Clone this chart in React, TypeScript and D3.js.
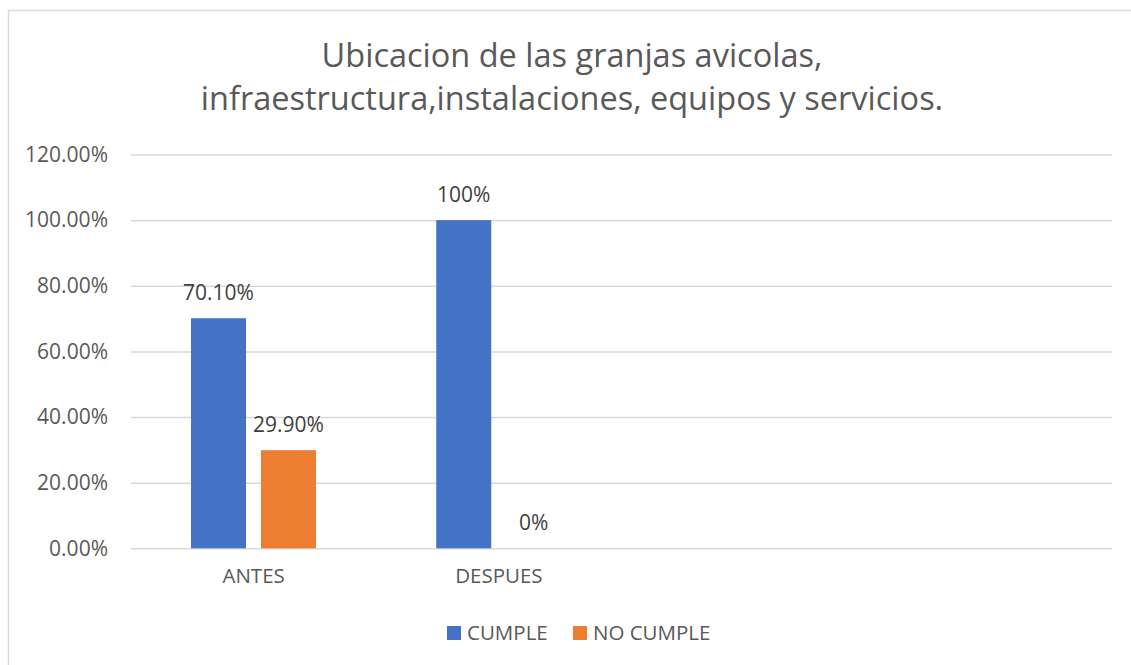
import React, { useRef, useEffect } from 'react';
import * as d3 from 'd3';

const categories = ['ANTES', 'DESPUES', '', ''];
const seriesNames = ['CUMPLE', 'NO CUMPLE'];
const seriesColors = ['#4472C4', '#ED7D31'];
const cumple = [0.701, 1.0, null, null];
const noCumple = [0.299, 0, null, null];
const cumpleLabels = ['70.10%', '100%', '', ''];
const noCumpleLabels = ['29.90%', '0%', '', ''];
const yTicks = [0, 0.2, 0.4, 0.6, 0.8, 1.0, 1.2];
const titleLines = [
  'Ubicacion de las granjas avicolas,',
  'infraestructura,instalaciones, equipos y servicios.',
];

const FONT = '"Open Sans", "Noto Sans", sans-serif';

const App: React.FC = () => {
  const ref = useRef<SVGSVGElement | null>(null);

  useEffect(() => {
    document.body.style.margin = '0';
    if (!ref.current) return;
    const svg = d3.select(ref.current);
    svg.selectAll('*').remove();

    const left = 131;
    const right = 1112;
    const top = 154.5;
    const bottom = 548.3;

    svg
      .append('rect')
      .attr('width', 1131)
      .attr('height', 665)
      .attr('fill', '#fff');

    // chart border (runs off the right/bottom edge)
    svg
      .append('rect')
      .attr('x', 8.5)
      .attr('y', 10.5)
      .attr('width', 1300)
      .attr('height', 900)
      .attr('fill', 'none')
      .attr('stroke', '#D9D9D9')
      .attr('stroke-width', 1.5);

    // title
    const title = svg
      .append('text')
      .attr('text-anchor', 'middle')
      .attr('font-family', FONT)
      .attr('font-size', 32.5)
      .attr('fill', '#595959');
    titleLines.forEach((line, i) => {
      title
        .append('tspan')
        .attr('x', 572)
        .attr('y', 67 + i * 43)
        .text(line);
    });

    const y = d3.scaleLinear().domain([0, 1.2]).range([bottom, top]);
    const x0 = d3
      .scaleBand<number>()
      .domain(categories.map((_, i) => i))
      .range([left, right]);
    const x1 = d3
      .scaleBand<number>()
      .domain(seriesNames.map((_, i) => i))
      .range([60, 185])
      .paddingInner(0.2143);

    // gridlines + y labels
    const yAxis = svg
      .append('g')
      .attr('transform', `translate(${left},0)`)
      .call(
        d3
          .axisLeft(y)
          .tickValues(yTicks)
          .tickSize(-(right - left))
          .tickPadding(23)
          .tickFormat((d) => d3.format('.2%')(d as number))
      );
    yAxis.select('.domain').remove();
    yAxis
      .selectAll('.tick line')
      .attr('stroke', '#D9D9D9')
      .attr('stroke-width', 1.5);
    yAxis
      .selectAll('.tick text')
      .attr('fill', '#595959')
      .attr('font-family', FONT)
      .attr('font-size', 21);

    // x labels
    const xAxis = svg
      .append('g')
      .attr('transform', `translate(0,${bottom})`)
      .call(
        d3
          .axisBottom(x0)
          .tickSize(0)
          .tickPadding(20)
          .tickFormat((d) => categories[d as number])
      );
    xAxis.select('.domain').remove();
    xAxis
      .selectAll('.tick text')
      .attr('fill', '#595959')
      .attr('font-family', FONT)
      .attr('font-size', 20.5);

    const allSeries = [cumple, noCumple];
    const allLabels = [cumpleLabels, noCumpleLabels];

    allSeries.forEach((values, s) => {
      const g = svg.append('g');
      categories.forEach((_, c) => {
        const v = values[c];
        if (v === null) return;
        const bx = (x0(c) as number) + (x1(s) as number);
        const bw = x1.bandwidth();
        g.append('rect')
          .attr('x', bx)
          .attr('y', y(v))
          .attr('width', bw)
          .attr('height', y(0) - y(v))
          .attr('fill', seriesColors[s]);
        g.append('text')
          .attr('x', bx + bw / 2)
          .attr('y', y(v) - 18)
          .attr('text-anchor', 'middle')
          .attr('font-family', FONT)
          .attr('font-size', 21)
          .attr('fill', '#404040')
          .text(allLabels[s][c]);
      });
    });

    // legend
    const legendItems = [
      { x: 447, tx: 467 },
      { x: 573, tx: 593 },
    ];
    seriesNames.forEach((name, i) => {
      svg
        .append('rect')
        .attr('x', legendItems[i].x)
        .attr('y', 626)
        .attr('width', 14)
        .attr('height', 14)
        .attr('fill', seriesColors[i]);
      svg
        .append('text')
        .attr('x', legendItems[i].tx)
        .attr('y', 640)
        .attr('font-family', FONT)
        .attr('font-size', 20.5)
        .attr('fill', '#595959')
        .text(name);
    });
  }, []);

  return (
    <svg
      ref={ref}
      width={1131}
      height={665}
      style={{ display: 'block' }}
    />
  );
};

export default App;
